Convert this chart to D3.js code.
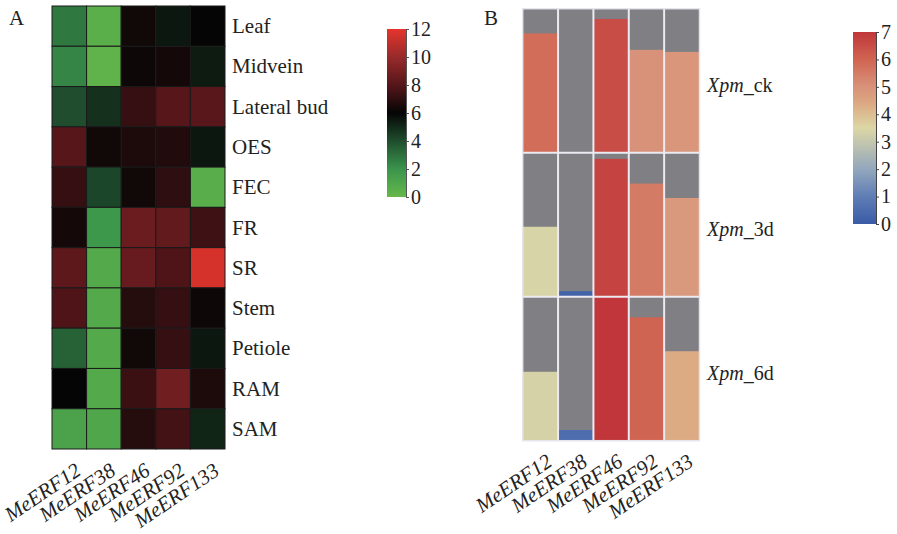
<!DOCTYPE html>
<html>
<head>
<meta charset="utf-8">
<script src="https://cdn.jsdelivr.net/npm/d3@7"></script>
<style>
  body { margin: 0; background: #fff; }
  svg { display: block; font-family: "Liberation Serif", "Times New Roman", serif; }
</style>
</head>
<body>
<div id="chart"></div>
<script>
// ---- data ----
const genes = ['MeERF12', 'MeERF38', 'MeERF46', 'MeERF92', 'MeERF133'];
const tissues = ['Leaf', 'Midvein', 'Lateral bud', 'OES', 'FEC', 'FR', 'SR', 'Stem', 'Petiole', 'RAM', 'SAM'];
// expression per tissue, one value per gene (panel A)
const leaf       = [2.8, 0.5, 6.3, 5.5, 6.0];
const midvein    = [2.4, 0.3, 6.2, 6.4, 5.4];
const lateralBud = [4.0, 4.8, 7.2, 8.0, 8.1];
const oes        = [8.0, 6.3, 6.6, 6.7, 5.5];
const fec        = [7.2, 4.2, 6.3, 7.0, 0.6];
const fr         = [6.4, 1.8, 8.6, 8.4, 7.4];
const sr         = [8.2, 0.8, 8.5, 7.8, 11.6];
const stem       = [7.8, 0.8, 6.8, 7.2, 6.2];
const petiole    = [3.4, 0.8, 6.3, 7.2, 5.5];
const ram        = [6.0, 0.8, 7.3, 8.8, 6.6];
const sam        = [1.2, 1.0, 6.8, 7.5, 5.1];
const tissueValues = [leaf, midvein, lateralBud, oes, fec, fr, sr, stem, petiole, ram, sam];
const legendATicks = [0, 2, 4, 6, 8, 10, 12];

// panel B: Xpm treatment
const treatments = ['ck', '3d', '6d'];
const xpmCk = [5.8, 0.0, 6.5, 5.0, 4.9];
const xpm3d = [3.4, 0.27, 6.7, 5.5, 4.8];
const xpm6d = [3.35, 0.52, 7.0, 6.0, 4.35];
const treatmentValues = [xpmCk, xpm3d, xpm6d];
const legendBTicks = [0, 1, 2, 3, 4, 5, 6, 7];

const W = 897, H = 534;
const serif = '"Liberation Serif", "Times New Roman", serif';
const svg = d3.select('#chart').append('svg')
    .attr('width', W).attr('height', H);

// ---------- Panel A ----------
const colA = d3.scaleLinear()
    .domain([0, 2, 4, 6, 8, 10, 12])
    .range(['#66b84a', '#3a944c', '#1f4d2d', '#050505', '#56161a', '#982a2a', '#e5342c'])
    .clamp(true);

const xA = d3.scaleBand().domain(genes).range([52, 225]);
const yA = d3.scaleBand().domain(tissues).range([6, 449]);

const gA = svg.append('g');
tissues.forEach((t, i) => {
    gA.selectAll(null)
      .data(tissueValues[i])
      .enter().append('rect')
      .attr('x', (d, j) => xA(genes[j]))
      .attr('y', yA(t))
      .attr('width', xA.bandwidth())
      .attr('height', yA.bandwidth())
      .attr('fill', d => colA(d))
      .attr('stroke', '#1a1a1a')
      .attr('stroke-width', 1);
});

gA.selectAll('text.row')
  .data(tissues)
  .enter().append('text')
  .attr('class', 'row')
  .attr('x', 232)
  .attr('y', d => yA(d) + yA.bandwidth() / 2 + 7)
  .attr('font-size', 21)
  .attr('fill', '#222')
  .text(d => d);

gA.selectAll('text.col')
  .data(genes)
  .enter().append('text')
  .attr('class', 'col')
  .attr('text-anchor', 'end')
  .attr('transform', d => `translate(${xA(d) + xA.bandwidth() / 2 + 13}, 474) rotate(-34)`)
  .attr('font-size', 21)
  .attr('font-style', 'italic')
  .attr('fill', '#222')
  .text(d => d);

svg.append('text').attr('x', 9).attr('y', 25).attr('font-size', 21).attr('fill', '#222').text('A');

// legend A
const defs = svg.append('defs');
const gradA = defs.append('linearGradient').attr('id', 'gradA')
    .attr('x1', 0).attr('y1', 1).attr('x2', 0).attr('y2', 0);
d3.range(0, 12.01, 0.5).forEach(v => {
    gradA.append('stop').attr('offset', v / 12).attr('stop-color', colA(v));
});
const lyA = d3.scaleLinear().domain([0, 12]).range([197, 29]);
svg.append('rect')
    .attr('x', 387).attr('y', 29).attr('width', 19).attr('height', 168)
    .attr('fill', 'url(#gradA)');
svg.append('g')
    .attr('transform', 'translate(406,0)')
    .call(d3.axisRight(lyA).tickValues(legendATicks).tickFormat(d3.format('d')).tickSize(3).tickPadding(2))
    .attr('font-family', serif)
    .attr('font-size', 20)
    .call(g => g.select('.domain').attr('stroke', '#555'))
    .call(g => g.selectAll('line').attr('stroke', '#555'))
    .call(g => g.selectAll('text').attr('fill', '#222'));

// ---------- Panel B ----------
const colB = d3.scaleLinear()
    .domain([0, 1, 2, 3.5, 4.4, 5, 6, 7])
    .range(['#3a5ba6', '#5f7db5', '#93a7bd', '#dcd7a6', '#dca882', '#d8927a', '#d06452', '#c0363a'])
    .clamp(true);

const xB = d3.scaleBand().domain(genes).range([522.7, 699.5]);
const yB = d3.scaleBand().domain(treatments).range([8.7, 440.7]);
const vB = d3.scaleLinear().domain([0, 7]).range([yB.bandwidth(), 0]);

const gB = svg.append('g');
treatments.forEach((t, i) => {
    const row = gB.append('g').attr('transform', `translate(0,${yB(t)})`);
    row.selectAll('rect.bg')
       .data(genes)
       .enter().append('rect')
       .attr('class', 'bg')
       .attr('x', d => xB(d))
       .attr('y', 0)
       .attr('width', xB.bandwidth())
       .attr('height', yB.bandwidth())
       .attr('fill', '#7f7f84');
    row.selectAll('rect.bar')
       .data(treatmentValues[i])
       .enter().append('rect')
       .attr('class', 'bar')
       .attr('x', (d, j) => xB(genes[j]))
       .attr('y', d => vB(d))
       .attr('width', xB.bandwidth())
       .attr('height', d => vB(0) - vB(d))
       .attr('fill', d => colB(d));
});
// light separators
gB.selectAll('line.v')
  .data(genes.slice(1))
  .enter().append('line')
  .attr('x1', d => xB(d)).attr('x2', d => xB(d))
  .attr('y1', 8.7).attr('y2', 440.7)
  .attr('stroke', '#eceaf2').attr('stroke-width', 2);
gB.selectAll('line.h')
  .data(treatments.slice(1))
  .enter().append('line')
  .attr('x1', 522.7).attr('x2', 699.5)
  .attr('y1', d => yB(d)).attr('y2', d => yB(d))
  .attr('stroke', '#eceaf2').attr('stroke-width', 2);
gB.append('rect')
  .attr('x', 522.7).attr('y', 8.7).attr('width', 176.8).attr('height', 432)
  .attr('fill', 'none').attr('stroke', '#e6e4ec').attr('stroke-width', 1.5);

const rowLab = gB.selectAll('text.row')
  .data(treatments)
  .enter().append('text')
  .attr('class', 'row')
  .attr('x', 707)
  .attr('y', d => yB(d) + yB.bandwidth() / 2 + 11)
  .attr('font-size', 20)
  .attr('fill', '#222');
rowLab.append('tspan').attr('font-style', 'italic').text('Xpm');
rowLab.append('tspan').text(d => '_' + d);

gB.selectAll('text.col')
  .data(genes)
  .enter().append('text')
  .attr('class', 'col')
  .attr('text-anchor', 'end')
  .attr('transform', d => `translate(${xB(d) + xB.bandwidth() / 2 + 13}, 465) rotate(-34)`)
  .attr('font-size', 21)
  .attr('font-style', 'italic')
  .attr('fill', '#222')
  .text(d => d);

svg.append('text').attr('x', 484).attr('y', 25).attr('font-size', 21).attr('fill', '#222').text('B');

// legend B
const gradB = defs.append('linearGradient').attr('id', 'gradB')
    .attr('x1', 0).attr('y1', 1).attr('x2', 0).attr('y2', 0);
d3.range(0, 7.01, 0.25).forEach(v => {
    gradB.append('stop').attr('offset', v / 7).attr('stop-color', colB(v));
});
const lyB = d3.scaleLinear().domain([0, 7]).range([224, 32]);
svg.append('rect')
    .attr('x', 853).attr('y', 32).attr('width', 23).attr('height', 192)
    .attr('fill', 'url(#gradB)');
svg.append('g')
    .attr('transform', 'translate(876,0)')
    .call(d3.axisRight(lyB).tickValues(legendBTicks).tickFormat(d3.format('d')).tickSize(3).tickPadding(2))
    .attr('font-family', serif)
    .attr('font-size', 20)
    .call(g => g.select('.domain').attr('stroke', '#444'))
    .call(g => g.selectAll('line').attr('stroke', '#444'))
    .call(g => g.selectAll('text').attr('fill', '#222'));
</script>
</body>
</html>
